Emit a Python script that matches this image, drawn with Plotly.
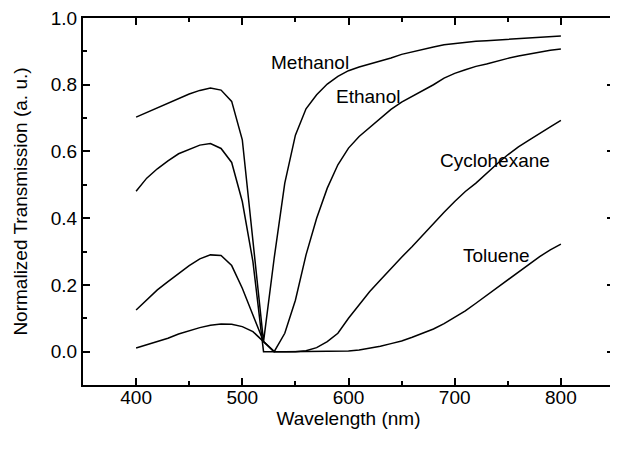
import plotly.graph_objects as go

wavelength = [400, 410, 420, 430, 440, 450, 460, 470, 480, 490, 500, 510, 520, 530, 540,
              550, 560, 570, 580, 590, 600, 610, 620, 630, 640, 650, 660, 670, 680, 690,
              700, 710, 720, 730, 740, 750, 760, 770, 780, 790, 800]

methanol = [0.703, 0.717, 0.731, 0.745, 0.759, 0.772, 0.783, 0.790, 0.784, 0.750, 0.635,
            0.330, 0.030, 0.280, 0.505, 0.649, 0.728, 0.770, 0.802, 0.825, 0.842, 0.853,
            0.862, 0.869, 0.880, 0.891, 0.899, 0.906, 0.913, 0.920, 0.924, 0.927, 0.930,
            0.932, 0.934, 0.936, 0.938, 0.940, 0.942, 0.944, 0.946]

ethanol = [0.481, 0.520, 0.548, 0.572, 0.593, 0.607, 0.619, 0.624, 0.609, 0.567, 0.450,
           0.270, 0.000, 0.000, 0.055, 0.154, 0.290, 0.400, 0.490, 0.560, 0.610, 0.645,
           0.672, 0.700, 0.726, 0.748, 0.765, 0.783, 0.800, 0.820, 0.834, 0.845, 0.855,
           0.862, 0.871, 0.879, 0.886, 0.892, 0.898, 0.903, 0.907]

cyclohexane = [0.125, 0.155, 0.185, 0.210, 0.235, 0.258, 0.278, 0.290, 0.288, 0.258, 0.190,
               0.110, 0.030, 0.000, 0.000, 0.000, 0.003, 0.012, 0.030, 0.055, 0.100, 0.140,
               0.180, 0.215, 0.250, 0.283, 0.315, 0.350, 0.385, 0.418, 0.450, 0.480, 0.505,
               0.535, 0.563, 0.590, 0.614, 0.634, 0.655, 0.674, 0.693]

toluene = [0.011, 0.020, 0.030, 0.040, 0.053, 0.063, 0.072, 0.079, 0.083, 0.082, 0.075,
           0.060, 0.030, 0.000, 0.000, 0.000, 0.000, 0.000, 0.000, 0.000, 0.002, 0.005,
           0.010, 0.016, 0.024, 0.032, 0.043, 0.055, 0.068, 0.084, 0.102, 0.122, 0.145,
           0.168, 0.192, 0.216, 0.238, 0.262, 0.285, 0.305, 0.322]

series_names = ["Methanol", "Ethanol", "Cyclohexane", "Toluene"]
series_values = [methanol, ethanol, cyclohexane, toluene]
label_x = [564, 618, 738, 739]
label_y = [0.866, 0.766, 0.573, 0.288]

x_ticks = [400, 500, 600, 700, 800]
y_ticks = [0.0, 0.2, 0.4, 0.6, 0.8, 1.0]

FONT = "Arial, Liberation Sans, Helvetica, sans-serif"
FS = 19

fig = go.Figure()
for name, vals in zip(series_names, series_values):
    fig.add_trace(go.Scatter(x=wavelength, y=vals, mode="lines", name=name,
                             line=dict(color="black", width=1.5), showlegend=False))

for name, lx, ly in zip(series_names, label_x, label_y):
    fig.add_annotation(x=lx, y=ly, text=name, showarrow=False,
                       font=dict(family=FONT, size=FS, color="black"))

axis_common = dict(
    showgrid=False, zeroline=False, showline=True, linecolor="black", linewidth=2,
    mirror="ticks", ticks="inside", ticklen=7, tickwidth=1.5, tickcolor="black",
    tickfont=dict(family=FONT, size=FS, color="black"), ticklabeloverflow="allow",
    automargin=False,
)

fig.update_xaxes(range=[350, 850], tickvals=x_ticks, ticktext=[str(v) for v in x_ticks],
                 ticklabelstandoff=-6,
                 minor=dict(dtick=50, tick0=350, ticks="inside", ticklen=4, tickwidth=1.5, tickcolor="black"),
                 title=dict(text="Wavelength (nm)", font=dict(family=FONT, size=FS, color="black"), standoff=0),
                 **axis_common)
fig.update_yaxes(range=[-0.1, 1.0], tickvals=y_ticks, ticktext=[f"{v:.1f}" for v in y_ticks],
                 minor=dict(dtick=0.1, tick0=0, ticks="inside", ticklen=4, tickwidth=1.5, tickcolor="black"),
                 title=dict(text="Normalized Transmission (a. u.)", font=dict(family=FONT, size=FS, color="black"), standoff=18),
                 **axis_common)

fig.update_layout(width=618, height=449, margin=dict(l=75, r=12, t=10, b=72, autoexpand=False),
                  plot_bgcolor="white", paper_bgcolor="white")

fig.write_html("out.html")
